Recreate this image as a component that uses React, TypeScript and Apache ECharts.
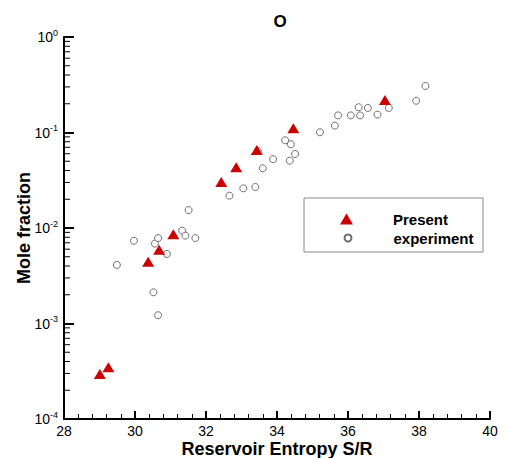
import React, { useEffect, useRef } from "react";
import * as echarts from "echarts";

const presentX = [29.01, 29.25, 30.37, 30.68, 31.08, 32.43, 32.85, 33.43, 34.46, 37.04];
const presentY = [2.96e-4, 3.48e-4, 4.44e-3, 5.93e-3, 8.59e-3, 0.0303, 0.0432, 0.0656, 0.1106, 0.219];

const expX = [29.49, 29.97, 30.52, 30.56, 30.65, 30.65, 30.9, 31.33, 31.42, 31.51, 31.7, 32.66, 33.05, 33.39, 33.46, 33.6, 33.89, 34.23, 34.39, 34.51, 34.36, 35.21, 35.63, 35.72, 36.08, 36.34, 36.3, 36.56, 36.83, 37.15, 37.92, 38.18];
const expY = [4.1e-3, 7.36e-3, 2.12e-3, 6.86e-3, 7.85e-3, 1.22e-3, 5.35e-3, 9.38e-3, 8.32e-3, 0.0154, 7.85e-3, 0.0218, 0.026, 0.0269, 0.064, 0.0422, 0.0526, 0.0828, 0.0752, 0.0596, 0.0507, 0.1005, 0.118, 0.151, 0.151, 0.151, 0.184, 0.181, 0.154, 0.181, 0.215, 0.307];

const xTicks = [28, 30, 32, 34, 36, 38, 40];
const yDecades = [-4, -3, -2, -1, 0];
const minorMultipliers = [2, 3, 4, 5, 6, 7, 8, 9];

const FONT = "Liberation Sans, Arial, sans-serif";

export default function App() {
  const ref = useRef<HTMLDivElement>(null);
  useEffect(() => {
    if (!ref.current) return;
    const chart = echarts.init(ref.current, undefined, { renderer: "svg" });
    const xMin = xTicks[0];
    const xMax = xTicks[xTicks.length - 1];
    const yMin = Math.pow(10, yDecades[0]);
    const yMax = Math.pow(10, yDecades[yDecades.length - 1]);
    const minorData: number[][] = [];
    for (let i = 0; i < yDecades.length - 1; i++) {
      for (const m of minorMultipliers) minorData.push([xMin, m * Math.pow(10, yDecades[i])]);
    }
    chart.setOption({
      animation: false,
      backgroundColor: "#fff",
      textStyle: { fontFamily: FONT },
      title: {
        text: "O",
        left: 275,
        top: 8,
        textAlign: "center",
        textStyle: { fontFamily: FONT, fontWeight: "bold", fontSize: 17, color: "#000" },
      },
      grid: { left: 64, right: 17, top: 37, bottom: 39, outerBoundsMode: "none", containLabel: false },
      xAxis: {
        type: "value",
        min: xMin,
        max: xMax,
        interval: 2,
        name: "Reservoir Entropy S/R",
        nameLocation: "middle",
        nameGap: 21,
        nameMoveOverlap: false,
        nameTextStyle: { fontFamily: FONT, fontWeight: "bold", fontSize: 18, lineHeight: 18, color: "#000" },
        axisLine: { lineStyle: { color: "#000", width: 2 } },
        axisTick: { inside: true, length: 8, lineStyle: { color: "#000", width: 2 } },
        minorTick: { show: true, splitNumber: 5, length: 5, lineStyle: { color: "#000", width: 1 } },
        axisLabel: { fontFamily: FONT, fontSize: 14, lineHeight: 14, color: "#000", margin: 5 },
        splitLine: { show: false },
      },
      yAxis: {
        type: "log",
        logBase: 10,
        min: yMin,
        max: yMax,
        name: "Mole fraction",
        nameLocation: "middle",
        nameGap: 31,
        nameMoveOverlap: false,
        nameTextStyle: { fontFamily: FONT, fontWeight: "bold", fontSize: 18, color: "#000" },
        axisLine: { show: true, lineStyle: { color: "#000", width: 2 } },
        axisTick: { show: true, inside: true, length: 10, lineStyle: { color: "#000", width: 2 } },
        axisLabel: {
          margin: 6,
          color: "#000",
          formatter: (v: number) => `{b|10}{s|${Math.round(Math.log10(v))}}`,
          rich: {
            b: { fontFamily: FONT, fontSize: 14, color: "#000" },
            s: { fontFamily: FONT, fontSize: 9, color: "#000", padding: [0, 0, 9, 0] },
          },
        },
        splitLine: { show: false },
      },
      legend: [
        {
          data: ["Present"],
          orient: "vertical",
          left: 340,
          top: 211,
          padding: 0,
          itemWidth: 13,
          itemHeight: 11,
          selectedMode: false,
          textStyle: { fontFamily: FONT, fontWeight: "bold", fontSize: 15, color: "#000", lineHeight: 16, padding: [0, 0, 0, 35] },
        },
        {
          data: ["experiment"],
          orient: "vertical",
          left: 343.5,
          top: 230,
          padding: 0,
          itemWidth: 7,
          itemHeight: 7,
          selectedMode: false,
          textStyle: { fontFamily: FONT, fontWeight: "bold", fontSize: 15, color: "#000", lineHeight: 16, padding: [0, 0, 0, 37] },
        },
      ],
      graphic: [
        {
          type: "rect",
          shape: { x: 304, y: 198, width: 179, height: 54 },
          style: { fill: "transparent", stroke: "#888", lineWidth: 1 },
          silent: true,
        },
      ],
      series: [
        {
          name: "experiment",
          type: "scatter",
          symbol: "circle",
          symbolSize: 7,
          itemStyle: { color: "#fff", borderColor: "#6e6e6e", borderWidth: 1, opacity: 1 },
          data: expX.map((x, i) => [x, expY[i]]),
          z: 2,
        },
        {
          name: "Present",
          type: "scatter",
          symbol: "triangle",
          symbolSize: [12, 10],
          itemStyle: { color: "#cc0000", opacity: 1 },
          data: presentX.map((x, i) => [x, presentY[i]]),
          z: 3,
        },
        {
          name: "yMinor",
          type: "custom",
          silent: true,
          clip: false,
          data: minorData,
          renderItem: (_params: any, api: any) => {
            const p = api.coord([api.value(0), api.value(1)]);
            return {
              type: "line",
              shape: { x1: p[0], y1: p[1], x2: p[0] + 6, y2: p[1] },
              style: { stroke: "#000", lineWidth: 1 },
            };
          },
          z: 1,
        },
      ],
    });
    return () => chart.dispose();
  }, []);
  return (
    <div
      ref={ref}
      style={{ position: "absolute", left: 0, top: 0, width: 507, height: 458 }}
    />
  );
}
